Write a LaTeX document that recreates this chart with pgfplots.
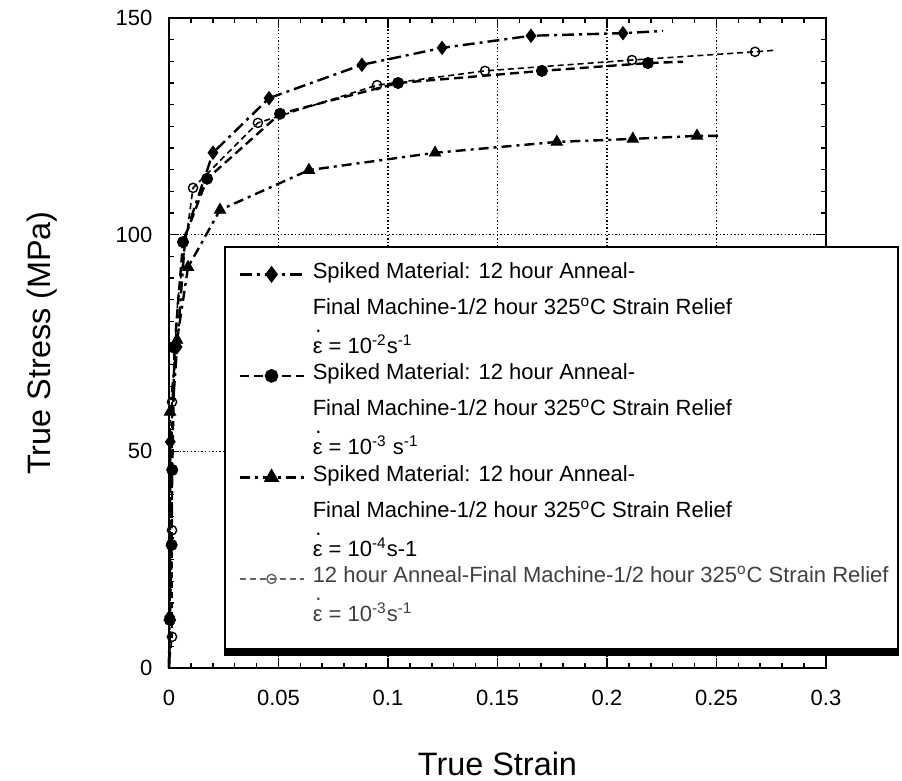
\documentclass[border=0pt]{standalone}
\usepackage{fontspec}
\setmainfont{Liberation Sans}
\usepackage{pgfplots}
\pgfplotsset{compat=1.18}

\newcommand{\edot}{\makebox[0pt][l]{\hspace{0.12em}\raisebox{10.5pt}{.}}ε}
\newcommand{\sn}{\rule[-7pt]{0pt}{18pt}}
\newcommand{\se}{\rule[-2.25pt]{0pt}{14.75pt}}
\newcommand{\slast}{\rule[-9pt]{0pt}{21.5pt}}
\newcommand{\dg}{\textsuperscript{o}}

\pgfplotsset{
  s1/.style={black, line width=1.2pt, dash pattern=on 6pt off 2.5pt on 1.5pt off 2.5pt},
  s2/.style={black, line width=1.2pt, dash pattern=on 4.5pt off 2.5pt},
  s3/.style={black, line width=1.2pt, dash pattern=on 5pt off 2.5pt on 1.5pt off 2.5pt},
  s4/.style={black, line width=0.8pt, dash pattern=on 3pt off 2pt},
  m1/.style={mark=diamond*, mark size=3.3pt, mark options={solid, fill=black}},
  m2/.style={mark=*, mark size=2.8pt, mark options={solid, fill=black}},
  m3/.style={mark=triangle*, mark size=3.3pt, mark options={solid, fill=black}},
  m4/.style={mark=o, mark size=2.3pt, mark options={solid, fill=white, line width=0.7pt}},
}

\begin{document}
\begin{tikzpicture}
\begin{axis}[
  scale only axis,
  width=328.5pt, height=325pt,
  xmin=0, xmax=0.3, ymin=0, ymax=150,
  clip=false,
  axis line style={line width=1pt},
  xtick={0,0.05,0.1,0.15,0.2,0.25,0.3},
  xticklabels={0,0.05,0.1,0.15,0.2,0.25,0.3},
  ytick={0,50,100,150},
  yticklabels={0,50,100,150},
  minor x tick num=4,
  minor y tick num=9,
  tick align=inside,
  tick pos=both,
  major tick length=5pt,
  minor tick length=2.5pt,
  every tick/.style={black, line width=0.8pt},
  grid=major,
  major grid style={black, line width=0.7pt, dash pattern=on 0.7pt off 1.1pt},
  tick label style={font=\fontsize{11}{13}\selectfont},
  xticklabel style={yshift=-7.3pt},
  yticklabel style={xshift=-4.8pt},
  xlabel={True Strain},
  ylabel={True Stress (MPa)},
  every axis x label/.style={at={(axis description cs:0.5,-0.1655)}, anchor=base, font=\fontsize{16.2}{19}\selectfont},
  every axis y label/.style={at={(axis description cs:-0.181,0.5)}, rotate=90, anchor=base, font=\fontsize{16.2}{19}\selectfont},
  legend cell align=left,
  legend image code/.code={\draw[mark repeat=2,mark phase=2,#1] plot coordinates {(0pt,0pt) (16pt,0pt) (32pt,0pt)};},
  legend style={at={(0.0852,0.6477)}, anchor=north west, name=leg,
    draw=none, fill=white,
    inner xsep=6.5pt, inner ysep=4.5pt,
    row sep=0pt, column sep=4pt,
    nodes={inner sep=0pt, text depth={}},
    font=\fontsize{11}{13}\selectfont},
]
% series 1: diamonds, 1e-2 /s
\addplot[s1, forget plot] coordinates {(0,0) (0.0003,11.8) (0.0006,52.2) (0.0037,74.1) (0.0075,100) (0.0201,118.9) (0.0457,131.5) (0.0881,139.2) (0.1247,143.1) (0.1653,145.9) (0.2073,146.5) (0.2256,147.0)};
\addplot[only marks, m1, forget plot] coordinates {(0.0003,11.8) (0.0006,52.2) (0.0037,74.1) (0.0201,118.9) (0.0457,131.5) (0.0881,139.2) (0.1247,143.1) (0.1653,145.9) (0.2073,146.5)};
% series 2: filled circles, 1e-3 /s
\addplot[s2, forget plot] coordinates {(0,0) (0.0004,11.1) (0.0012,28.4) (0.0015,45.7) (0.0025,73.9) (0.0064,98.3) (0.0174,112.9) (0.0507,127.9) (0.1046,135.0) (0.1703,137.8) (0.2187,139.6) (0.2347,139.9)};
\addplot[only marks, m2, forget plot] coordinates {(0.0004,11.1) (0.0012,28.4) (0.0015,45.7) (0.0025,73.9) (0.0064,98.3) (0.0174,112.9) (0.0507,127.9) (0.1046,135.0) (0.1703,137.8) (0.2187,139.6)};
% series 3: triangles, 1e-4 /s
\addplot[s3, forget plot] coordinates {(0,0) (0.0003,11.8) (0.0005,59.1) (0.0037,75.7) (0.0087,92.5) (0.0233,105.7) (0.0639,114.9) (0.1215,118.9) (0.1771,121.4) (0.2118,122.1) (0.2411,122.8) (0.2524,122.8)};
\addplot[only marks, m3, forget plot] coordinates {(0.0003,11.8) (0.0005,59.1) (0.0037,75.7) (0.0087,92.5) (0.0233,105.7) (0.0639,114.9) (0.1215,118.9) (0.1771,121.4) (0.2118,122.1) (0.2411,122.8)};
% series 4: open circles, unspiked 1e-3 /s
\addplot[s4, forget plot] coordinates {(0,0) (0.0014,7.2) (0.0014,31.8) (0.0014,61.4) (0.004,85) (0.011,110.8) (0.0406,125.8) (0.095,134.5) (0.1443,137.8) (0.2114,140.3) (0.2676,142.2) (0.2776,142.6)};
\addplot[only marks, m4, forget plot] coordinates {(0.0014,7.2) (0.0014,31.8) (0.0014,61.4) (0.011,110.8) (0.0406,125.8) (0.095,134.5) (0.1443,137.8) (0.2114,140.3) (0.2676,142.2)};

\addlegendimage{s1, m1}
\addlegendentry{\sn Spiked Material: 12 hour Anneal-}
\addlegendimage{empty legend}
\addlegendentry{\sn Final Machine-1/2 hour 325\dg C Strain Relief}
\addlegendimage{empty legend}
\addlegendentry{\se\edot\ = 10\textsuperscript{-2}s\textsuperscript{-1}}
\addlegendimage{s2, m2}
\addlegendentry{\sn Spiked Material: 12 hour Anneal-}
\addlegendimage{empty legend}
\addlegendentry{\sn Final Machine-1/2 hour 325\dg C Strain Relief}
\addlegendimage{empty legend}
\addlegendentry{\se\edot\ = 10\textsuperscript{-3} s\textsuperscript{-1}}
\addlegendimage{s3, m3}
\addlegendentry{\sn Spiked Material: 12 hour Anneal-}
\addlegendimage{empty legend}
\addlegendentry{\sn Final Machine-1/2 hour 325\dg C Strain Relief}
\addlegendimage{empty legend}
\addlegendentry{\se\edot\ = 10\textsuperscript{-4}s-1}
\addlegendimage{s4, m4, black!60}
\addlegendentry{\sn\textcolor{black!75}{12 hour Anneal-Final Machine-1/2 hour 325\dg C Strain Relief}}
\addlegendimage{empty legend}
\addlegendentry{\slast\textcolor{black!75}{\edot\ = 10\textsuperscript{-3}s\textsuperscript{-1}}}

\coordinate (bbl) at (rel axis cs:-0.2572,-0.1723);
\coordinate (btr) at (rel axis cs:1.1157,1.0277);
\coordinate (legR) at (rel axis cs:1.1096,0);
\end{axis}
\path (leg.south west -| legR) coordinate (lse);
\fill[black] ([xshift=-0.4pt]leg.south west) rectangle ([xshift=0.4pt,yshift=-3.5pt]lse);
\draw[black, line width=0.8pt] (leg.north west) rectangle (lse);
\pgfresetboundingbox
\useasboundingbox (bbl) rectangle (btr);
\end{tikzpicture}
\end{document}
